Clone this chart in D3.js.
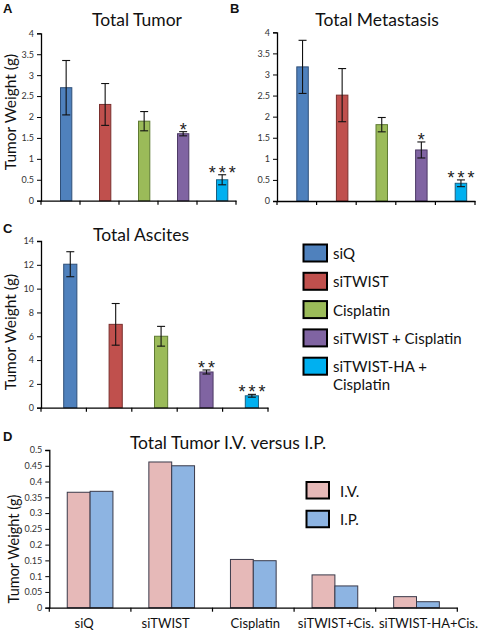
<!DOCTYPE html>
<html><head><meta charset="utf-8">
<script src="https://cdn.jsdelivr.net/npm/d3@7"></script>
<style>body{margin:0;background:#fff}svg{display:block;font-family:Lato,"Open Sans",sans-serif}</style>
</head><body><svg id="c" width="478" height="633"></svg>
<script>
const groups = ["siQ","siTWIST","Cisplatin","siTWIST + Cisplatin","siTWIST-HA + Cisplatin"];
const groupColors = ["#4F81BD","#C0504D","#9BBB59","#8064A2","#00B0F0"];
const groupStroke = ["#2f4f78","#7a2f2d","#5e7a32","#4d3a66","#1a5f80"];

const tumorMean = [2.70, 2.30, 1.90, 1.60, 0.50];
const tumorErr  = [0.65, 0.50, 0.23, 0.05, 0.12];
const tumorSig  = ["", "", "", "*", "***"];

const metMean = [3.18, 2.51, 1.81, 1.21, 0.42];
const metErr  = [0.63, 0.63, 0.17, 0.19, 0.08];
const metSig  = ["", "", "", "*", "***"];

const ascMean = [12.05, 7.0, 6.0, 3.0, 1.0];
const ascErr  = [1.05, 1.75, 0.83, 0.17, 0.12];
const ascSig  = ["", "", "", "**", "***"];

const ticksAB = [0,0.5,1,1.5,2,2.5,3,3.5,4];
const ticksC  = [0,2,4,6,8,10,12,14];
const ticksD  = [0,0.05,0.1,0.15,0.2,0.25,0.3,0.35,0.4,0.45,0.5];

const ivipCats = ["siQ","siTWIST","Cisplatin","siTWIST+Cis.","siTWIST-HA+Cis."];
const ivValues = [0.366, 0.462, 0.153, 0.104, 0.035];
const ipValues = [0.369, 0.450, 0.149, 0.069, 0.019];
const routes = ["I.V.","I.P."];
const routeColors = ["#E6B9B8","#8DB4E2"];

const svg = d3.select("#c");

function yAxis(g, y, ticks, x0, fmt){
  const ax = d3.axisLeft(y).tickValues(ticks).tickSize(4).tickPadding(3).tickFormat(fmt || (d=>d3.format("")(d)));
  const a = g.append("g").attr("transform",`translate(${x0},0)`).call(ax);
  a.select(".domain").attr("stroke","#000").attr("stroke-width",1.3);
  a.selectAll(".tick line").attr("stroke","#000");
  a.selectAll(".tick text").attr("font-size",9).attr("fill","#333").attr("font-family","Lato,sans-serif");
  return a;
}
function xAxis(g, x, yb){
  const ax = d3.axisBottom(x).tickValues([]).tickSizeOuter(0);
  const a = g.append("g").attr("transform",`translate(0,${yb})`).call(ax);
  a.select(".domain").attr("stroke","#000").attr("stroke-width",1.3);
  const r = x.range(); const bw = x.step();
  const bounds = d3.range(x.domain().length+1).map(i=>r[0]+i*bw);
  a.selectAll("line.tk").data(bounds).join("line").attr("class","tk")
    .attr("x1",d=>d).attr("x2",d=>d).attr("y1",0).attr("y2",4).attr("stroke","#000").attr("stroke-width",1.2);
}

function barPanel(o){
  const g = svg.append("g");
  const x = d3.scaleBand().domain(groups).range([o.x0,o.x1]).padding(0);
  const y = d3.scaleLinear().domain([0,o.max]).range([o.yb,o.yt]);
  yAxis(g,y,o.ticks,o.x0);
  const bw = x.bandwidth()*0.29;
  const data = groups.map((k,i)=>({k,i,m:o.mean[i],e:o.err[i],s:o.sig[i]}));
  g.selectAll("rect.b").data(data).join("rect").attr("class","b")
    .attr("x",d=>x(d.k)+x.bandwidth()/2).attr("width",bw)
    .attr("y",d=>y(d.m)).attr("height",d=>y(0)-y(d.m))
    .attr("fill",d=>groupColors[d.i]).attr("stroke",d=>groupStroke[d.i]).attr("stroke-width",1);
  const cx = d=>x(d.k)+x.bandwidth()/2+bw/2;
  const eb = g.selectAll("g.e").data(data).join("g").attr("class","e");
  eb.append("line").attr("x1",cx).attr("x2",cx).attr("y1",d=>y(d.m+d.e)).attr("y2",d=>y(d.m-d.e)).attr("stroke","#111").attr("stroke-width",1.1);
  eb.append("line").attr("x1",d=>cx(d)-4).attr("x2",d=>cx(d)+4).attr("y1",d=>y(d.m+d.e)).attr("y2",d=>y(d.m+d.e)).attr("stroke","#111").attr("stroke-width",1.1);
  eb.append("line").attr("x1",d=>cx(d)-4).attr("x2",d=>cx(d)+4).attr("y1",d=>y(d.m-d.e)).attr("y2",d=>y(d.m-d.e)).attr("stroke","#111").attr("stroke-width",1.1);
  g.selectAll("text.s").data(data.filter(d=>d.s)).join("text").attr("class","s")
    .attr("x",cx).attr("dx",1.5).attr("y",d=>y(d.m+d.e)+4).attr("text-anchor","middle")
    .attr("font-size",18).attr("letter-spacing",3).attr("fill","#222").attr("font-family","Liberation Sans,Arial,sans-serif").text(d=>d.s);
  xAxis(g,x,o.yb);
  g.append("text").attr("x",o.tx).attr("y",o.ty).attr("text-anchor","middle").attr("font-size",17.5).attr("fill","#111").text(o.title);
  if(o.ylab) g.append("text").attr("transform",`translate(${o.lx},${o.ly}) rotate(-90)`).attr("text-anchor","middle").attr("dominant-baseline","central").attr("font-size",15.5).attr("fill","#111").text("Tumor Weight (g)");
  g.append("text").attr("x",o.px).attr("y",o.py).attr("font-size",13).attr("font-weight","bold").attr("font-family","Arial,Liberation Sans,sans-serif").attr("fill","#111").text(o.letter);
}

barPanel({x0:41,x1:236,yb:200.7,yt:33.3,max:4,ticks:ticksAB,mean:tumorMean,err:tumorErr,sig:tumorSig,
  title:"Total Tumor",tx:137,ty:26,ylab:true,lx:10,ly:112,letter:"A",px:3,py:13});
barPanel({x0:277,x1:475,yb:201,yt:32.3,max:4,ticks:ticksAB,mean:metMean,err:metErr,sig:metSig,
  title:"Total Metastasis",tx:377,ty:26,ylab:false,letter:"B",px:230,py:13});
barPanel({x0:41,x1:268,yb:407.7,yt:241,max:14,ticks:ticksC,mean:ascMean,err:ascErr,sig:ascSig,
  title:"Total Ascites",tx:141,ty:241,ylab:true,lx:10,ly:332,letter:"C",px:3,py:233});

// legend for A-C
const lg = svg.append("g");
const ly = d3.scaleBand().domain(groups).range([244,385.5]);
groups.forEach((k,i)=>{
  const yy = ly(k);
  lg.append("rect").attr("x",303.5).attr("y",yy+0.5).attr("width",23.5).attr("height",17).attr("fill",groupColors[i]).attr("stroke","#000").attr("stroke-width",2);
  const lines = k==="siTWIST-HA + Cisplatin" ? ["siTWIST-HA +","Cisplatin"] : [k];
  lines.forEach((t,j)=>lg.append("text").attr("x",333).attr("y",yy+9+j*17.7).attr("dominant-baseline","central").attr("font-size",15).attr("fill","#111").text(t));
});

// Panel D
const gd = svg.append("g");
const xd = d3.scaleBand().domain(ivipCats).range([49.3,457.3]).padding(0);
const xs = d3.scaleBand().domain(routes).range([0,xd.bandwidth()*0.56]).padding(0);
const yd = d3.scaleLinear().domain([0,0.5]).range([607.7,450]);
yAxis(gd,yd,ticksD,49.3,d=>d3.format("")(+d.toFixed(2)));
const dd = ivipCats.map((c,i)=>({c,v:[ivValues[i],ipValues[i]]}));
const grp = gd.selectAll("g.cat").data(dd).join("g").attr("class","cat")
  .attr("transform",d=>`translate(${xd(d.c)+xd.bandwidth()*0.22},0)`);
grp.selectAll("rect").data(d=>routes.map((r,j)=>({r,j,v:d.v[j]}))).join("rect")
  .attr("x",d=>xs(d.r)).attr("width",xs.bandwidth()).attr("y",d=>yd(d.v)).attr("height",d=>yd(0)-yd(d.v))
  .attr("fill",d=>routeColors[d.j]).attr("stroke","#3a3a4a").attr("stroke-width",1);
xAxis(gd,xd,607.7);
const labelNudge = [-6,-6,2,1,12];
gd.selectAll("text.xl").data(ivipCats).join("text").attr("class","xl")
  .attr("x",(d,i)=>xd(d)+xd.bandwidth()/2+labelNudge[i]).attr("y",623).attr("text-anchor","middle").attr("dominant-baseline","central")
  .attr("font-size",13).attr("fill","#111").text(d=>d);
gd.append("text").attr("x",228).attr("y",449).attr("text-anchor","middle").attr("font-size",17.5).attr("fill","#111").text("Total Tumor I.V. versus I.P.");
gd.append("text").attr("transform","translate(13,549) rotate(-90)").attr("text-anchor","middle").attr("dominant-baseline","central").attr("font-size",14.5).attr("fill","#111").text("Tumor Weight (g)");
gd.append("text").attr("x",3).attr("y",441).attr("font-size",13).attr("font-weight","bold").attr("font-family","Arial,Liberation Sans,sans-serif").attr("fill","#111").text("D");
const ldy = d3.scaleBand().domain(routes).range([481.5,539]);
routes.forEach((r,j)=>{
  lg.append("rect").attr("x",306.5).attr("y",ldy(r)+0.5).attr("width",22.5).attr("height",16.5).attr("fill",routeColors[j]).attr("stroke","#000").attr("stroke-width",2);
  lg.append("text").attr("x",340).attr("y",ldy(r)+9).attr("dominant-baseline","central").attr("font-size",15).attr("fill","#111").text(r);
});
</script></body></html>
